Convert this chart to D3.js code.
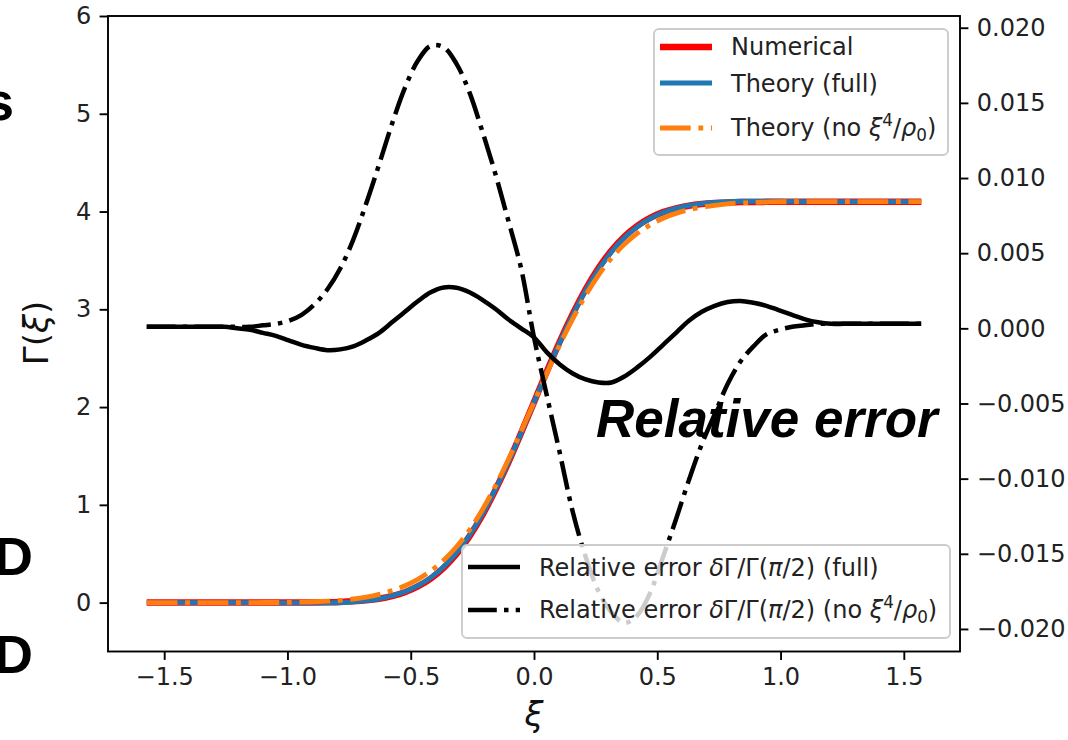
<!DOCTYPE html>
<html>
<head>
<meta charset="utf-8">
<script src="https://cdn.jsdelivr.net/npm/d3@7"></script>
<style>
  body { margin: 0; background: #fff; }
  svg { display: block; font-family: "DejaVu Sans", sans-serif; }
</style>
</head>
<body>
<svg id="chart" width="1068" height="740"></svg>
<script>
// Sample grid in xi, from -pi/2 to pi/2
const xi = [
  -1.5708, -1.5184, -1.4661, -1.4137, -1.3614, -1.3090, -1.2566, -1.2043, -1.1519, -1.0996,
  -1.0472, -0.9948, -0.9425, -0.8901, -0.8378, -0.7854, -0.7330, -0.6807, -0.6283, -0.5760,
  -0.5236, -0.4712, -0.4189, -0.3665, -0.3142, -0.2618, -0.2094, -0.1571, -0.1047, -0.0524,
   0.0000,
   0.0524,  0.1047,  0.1571,  0.2094,  0.2618,  0.3142,  0.3665,  0.4189,  0.4712,  0.5236,
   0.5760,  0.6283,  0.6807,  0.7330,  0.7854,  0.8378,  0.8901,  0.9425,  0.9948,  1.0472,
   1.0996,  1.1519,  1.2043,  1.2566,  1.3090,  1.3614,  1.4137,  1.4661,  1.5184,  1.5708
];

// Gamma(xi), left axis
const gammaNumerical = [
  0, 0, 0, 0, 0, 0, 0, 0, 0, 0, 0, 0,
  0.001, 0.002, 0.004, 0.007, 0.013, 0.023, 0.040, 0.067, 0.106, 0.165,
  0.246, 0.356, 0.499, 0.678, 0.895, 1.148, 1.429, 1.734, 2.050, 2.366,
  2.671, 2.952, 3.205, 3.422, 3.601, 3.744, 3.854, 3.935, 3.994, 4.033,
  4.060, 4.077, 4.087, 4.093, 4.097, 4.098, 4.099,
  4.100, 4.100, 4.100, 4.100, 4.100, 4.100, 4.100, 4.100, 4.100, 4.100, 4.100, 4.100
];

const gammaTheoryFull = [
  0, 0, 0, 0, 0, 0, 0, 0, 0,
  -0.001, -0.002, -0.003, -0.004, -0.003, -0.002, 0.001, 0.008, 0.020, 0.039, 0.070,
  0.111, 0.173, 0.256, 0.367, 0.510, 0.688, 0.903, 1.153, 1.431, 1.734,
  2.048, 2.359, 2.661, 2.940, 3.191, 3.407, 3.586, 3.731, 3.843, 3.927,
  3.990, 4.032, 4.062, 4.082, 4.094, 4.101, 4.105, 4.105, 4.105, 4.105,
  4.103, 4.102, 4.102,
  4.101, 4.101, 4.101, 4.101, 4.101, 4.101, 4.101, 4.101
];

const gammaTheoryNoXi4 = [
  0, 0, 0, 0, 0, 0, 0, 0, 0,
  0.001, 0.001, 0.002, 0.005, 0.009, 0.015, 0.023, 0.037, 0.057, 0.085, 0.123,
  0.172, 0.238, 0.323, 0.433, 0.571, 0.742, 0.949, 1.190, 1.459, 1.750,
  2.048, 2.348, 2.637, 2.902, 3.143, 3.350, 3.524, 3.664, 3.776, 3.863,
  3.932, 3.981, 4.019, 4.045, 4.064, 4.078, 4.088, 4.093, 4.097, 4.100, 4.100,
  4.101, 4.101, 4.101, 4.101, 4.101, 4.101, 4.101, 4.101, 4.101, 4.101
];

// Relative error dGamma / Gamma(pi/2), right axis
const relErrFull = [
  0.0001, 0.0001, 0.0001, 0.0001, 0.0001, 0.0001, 0.0001,
  0.0000, -0.0001, -0.0003, -0.0005, -0.0008, -0.0011, -0.0013, -0.00145, -0.0014,
  -0.0012, -0.0008, -0.0003, 0.0004, 0.0011, 0.0018, 0.0024, 0.00272, 0.0027, 0.0024,
  0.0019, 0.0013, 0.0006, 0.0000, -0.0006, -0.0016, -0.0024, -0.0030, -0.0034, -0.0036,
  -0.0036, -0.0032, -0.0026, -0.0019, -0.0011, -0.0003, 0.0005, 0.0011, 0.0015, 0.00175,
  0.00182, 0.0017, 0.0015, 0.0012, 0.0009, 0.0006, 0.0004,
  0.0003, 0.0003, 0.0003, 0.0003, 0.0003, 0.0003, 0.0003, 0.0003
];

const relErrNoXi4 = [
  0.0001, 0.0001, 0.0001, 0.0001, 0.0001, 0.0001, 0.0001, 0.0001, 0.0001,
  0.0002, 0.0003, 0.0005, 0.0009, 0.0016, 0.0026, 0.0040, 0.0059, 0.0083, 0.0109, 0.0136,
  0.0160, 0.0178, 0.0188, 0.0187, 0.0176, 0.0157, 0.0131, 0.0103, 0.0072, 0.0040,
  -0.0006, -0.0045, -0.0083, -0.0122, -0.0152, -0.0175, -0.0189, -0.0196, -0.0191, -0.0176,
  -0.0152, -0.0127, -0.0101, -0.0077, -0.0057, -0.0037, -0.0022, -0.0012, -0.0004, -0.0001,
  0.0001, 0.0002,
  0.0003, 0.0003, 0.0003, 0.0003, 0.0003, 0.0003, 0.0003, 0.0003, 0.0003
];

const xTicks = [-1.5, -1.0, -0.5, 0.0, 0.5, 1.0, 1.5];
const yLeftTicks = [0, 1, 2, 3, 4, 5, 6];
const yRightTicks = [-0.020, -0.015, -0.010, -0.005, 0.000, 0.005, 0.010, 0.015, 0.020];

const svg = d3.select("#chart");
const box = { left: 108, right: 960, top: 16, bottom: 651.5 };

const x = d3.scaleLinear().domain([-1.7279, 1.7279]).range([box.left, box.right]);
const yL = d3.scaleLinear().domain([-0.5, 6]).range([box.bottom, box.top]);
const yR = d3.scaleLinear().domain([-0.0215, 0.02078]).range([box.bottom, box.top]);

const TICK = 8.4, PAD = 8.4, FS = 24;
const sans = "'DejaVu Sans', sans-serif";
const boldFace = "'Liberation Sans', Arial, sans-serif";

function styleAxis(g) {
  g.select(".domain").remove();
  g.selectAll(".tick line").attr("stroke", "#000").attr("stroke-width", 1.9);
  g.selectAll(".tick text").attr("fill", "#222")
    .style("font-size", FS + "px").style("font-family", sans);
}

// axes
svg.append("g").attr("transform", `translate(0,${box.bottom})`)
  .call(d3.axisBottom(x).tickValues(xTicks).tickSize(TICK).tickPadding(PAD).tickFormat(d3.format(".1f")))
  .call(styleAxis);
svg.append("g").attr("transform", `translate(${box.left},0)`)
  .call(d3.axisLeft(yL).tickValues(yLeftTicks).tickSize(TICK).tickPadding(PAD).tickFormat(d3.format("d")))
  .call(styleAxis);
svg.append("g").attr("transform", `translate(${box.right},0)`)
  .call(d3.axisRight(yR).tickValues(yRightTicks).tickSize(TICK).tickPadding(PAD).tickFormat(d3.format(".3f")))
  .call(styleAxis);

// Gamma curves (left axis)
const lineL = d3.line().x((d, i) => x(xi[i])).y(d => yL(d)).curve(d3.curveMonotoneX);
const lineR = d3.line().x((d, i) => x(xi[i])).y(d => yR(d)).curve(d3.curveCatmullRom);

const colRed = "#ff0000", colBlue = "#1f77b4", colOrange = "#ff7f0e";
const dashOrange = "30.7,7.7,4.8,7.7";
const dashBlack = "28.8,7.2,4.5,7.2";

svg.append("path").datum(gammaNumerical).attr("d", lineL)
  .attr("fill", "none").attr("stroke", colRed).attr("stroke-width", 6.5);
svg.append("path").datum(gammaTheoryFull).attr("d", lineL)
  .attr("fill", "none").attr("stroke", colBlue).attr("stroke-width", 4.8);
svg.append("path").datum(gammaTheoryNoXi4).attr("d", lineL)
  .attr("fill", "none").attr("stroke", colOrange).attr("stroke-width", 4.8)
  .attr("stroke-dasharray", dashOrange);

// rich text: parts with italic / superscript / subscript
function rich(g, xPos, yPos, parts, size) {
  const t = g.append("text").attr("x", xPos).attr("y", yPos)
    .style("font-size", size + "px").style("font-family", sans).attr("fill", "#222");
  let shift = 0;
  parts.forEach(p => {
    const ts = t.append("tspan").text(p.t);
    let target = 0;
    if (p.sup) target = -0.42 * size;
    if (p.sub) target = 0.2 * size;
    if (target !== shift) { ts.attr("dy", target - shift); shift = target; }
    if (p.sup || p.sub) ts.style("font-size", (size * 0.7) + "px");
    if (p.it) ts.style("font-style", "italic");
  });
  return t;
}

function legendBox(g, bx, by, bw, bh) {
  g.append("rect").attr("x", bx).attr("y", by).attr("width", bw).attr("height", bh)
    .attr("rx", 5).attr("fill", "#fff").attr("fill-opacity", 0.8)
    .attr("stroke", "#cccccc").attr("stroke-width", 1.9);
}

// Gamma legend
const legA = svg.append("g");
legendBox(legA, 654, 29, 294, 126);
const legAItems = [
  { y: 47, color: colRed, width: 6.5, dash: null, text: [{ t: "Numerical" }], base: 55 },
  { y: 83, color: colBlue, width: 4.8, dash: null, text: [{ t: "Theory (full)" }], base: 92 },
  { y: 128, color: colOrange, width: 4.8, dash: dashOrange,
    text: [{ t: "Theory (no " }, { t: "ξ", it: true }, { t: "4", sup: true }, { t: "/" },
           { t: "ρ", it: true }, { t: "0", sub: true }, { t: ")" }], base: 136 }
];
legAItems.forEach(it => {
  legA.append("line").attr("x1", 660).attr("x2", 712).attr("y1", it.y).attr("y2", it.y)
    .attr("stroke", it.color).attr("stroke-width", it.width)
    .attr("stroke-dasharray", it.dash);
  rich(legA, 731, it.base, it.text, FS);
});

// relative error curves (right axis)
svg.append("path").datum(relErrFull).attr("d", lineR)
  .attr("fill", "none").attr("stroke", "#000").attr("stroke-width", 4.5);
svg.append("path").datum(relErrNoXi4).attr("d", lineR)
  .attr("fill", "none").attr("stroke", "#000").attr("stroke-width", 4.5)
  .attr("stroke-dasharray", dashBlack);

// frame
svg.append("rect").attr("x", box.left).attr("y", box.top)
  .attr("width", box.right - box.left).attr("height", box.bottom - box.top)
  .attr("fill", "none").attr("stroke", "#000").attr("stroke-width", 1.9);

// error legend
const legB = svg.append("g");
legendBox(legB, 462, 545, 488, 93);
const errLabel = [{ t: "Relative error " }, { t: "δ", it: true }, { t: "Γ/Γ(" }, { t: "π", it: true }, { t: "/2) " }];
const legBItems = [
  { y: 567, dash: null, text: errLabel.concat([{ t: "(full)" }]), base: 576 },
  { y: 610, dash: dashBlack,
    text: errLabel.concat([{ t: "(no " }, { t: "ξ", it: true }, { t: "4", sup: true }, { t: "/" },
                           { t: "ρ", it: true }, { t: "0", sub: true }, { t: ")" }]), base: 618 }
];
legBItems.forEach(it => {
  legB.append("line").attr("x1", 468).attr("x2", 520).attr("y1", it.y).attr("y2", it.y)
    .attr("stroke", "#000").attr("stroke-width", 4.5).attr("stroke-dasharray", it.dash);
  rich(legB, 539, it.base, it.text, FS);
});

// axis labels
const yLab = svg.append("text").attr("transform", "translate(48,333) rotate(-90)")
  .attr("text-anchor", "middle").style("font-size", "34px").style("font-family", sans).attr("fill", "#111");
yLab.append("tspan").text("Γ(");
yLab.append("tspan").style("font-style", "italic").text("ξ");
yLab.append("tspan").text(")");
svg.append("text").attr("x", 534).attr("y", 726).attr("text-anchor", "middle")
  .style("font-size", "34px").style("font-family", sans).style("font-style", "italic")
  .attr("fill", "#111").text("ξ");

// annotation text
function boldText(tx, ty, size, italic, str) {
  svg.append("text").attr("x", tx).attr("y", ty)
    .style("font-family", boldFace).style("font-weight", "bold")
    .style("font-style", italic ? "italic" : "normal").style("font-size", size + "px")
    .attr("fill", "#000").text(str);
}
boldText(596, 437, 53, true, "Relative error");
boldText(-16, 120, 54, false, "s");
boldText(-6, 575, 54, false, "D");
boldText(-6, 673, 54, false, "D");
</script>
</body>
</html>
